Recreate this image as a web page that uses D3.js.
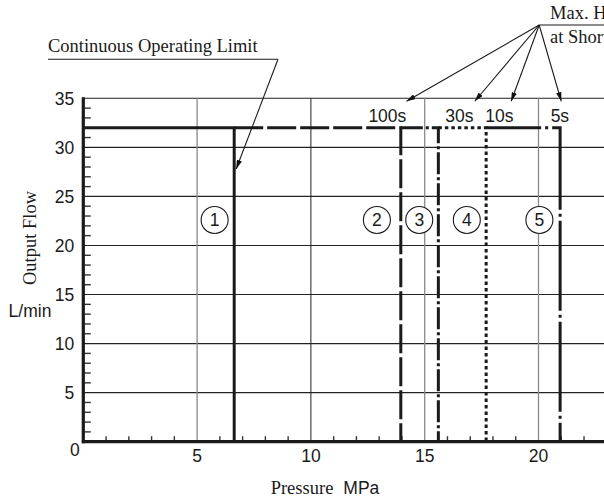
<!DOCTYPE html>
<html>
<head>
<meta charset="utf-8">
<script src="https://cdn.jsdelivr.net/npm/d3@7"></script>
<style>
  body { margin: 0; background: #fff; }
  svg { display: block; overflow: hidden; }
  .sans { font-family: "Liberation Sans", Arial, sans-serif; }
  .serif { font-family: "Liberation Serif", "Times New Roman", serif; }
</style>
</head>
<body>
<svg id="chart" width="604" height="501"></svg>
<script>
// pressure limits (MPa) for each operating region, and the max output flow
var limitPressure = [6.63, 13.95, 15.6, 17.7, 20.95];
var maxFlow = 32;
var regionNames = ["1", "2", "3", "4", "5"];
var regionLabelX = [5.77, 12.9, 14.76, 16.85, 20.04];
var regionLabelY = 22.6;
var regionDash = [null, "29,4", "22,3,3,3", "3.5,3", "90,4,3,4"];
var regionDashOffset = [0, 0, 0, 0, 35];

var holdTimes = ["100s", "30s", "10s", "5s"];
var holdLabelX = [13.36, 16.52, 18.28, 20.94];
var holdArrowX = [14.2, 17.2, 18.8, 21.0];

var xTicks = [5, 10, 15, 20];
var yTicks = [5, 10, 15, 20, 25, 30, 35];

var svg = d3.select("#chart");
var width = +svg.attr("width");

var x = d3.scaleLinear().domain([0, 25]).range([83.3, 83.3 + 25 * 22.76]);
var y = d3.scaleLinear().domain([0, 35]).range([441.7, 98.3]);

var defs = svg.append("defs");
defs.append("marker")
    .attr("id", "arrow")
    .attr("viewBox", "0 0 10 6")
    .attr("refX", 10).attr("refY", 3)
    .attr("markerWidth", 9).attr("markerHeight", 5.4)
    .attr("markerUnits", "userSpaceOnUse")
    .attr("orient", "auto")
  .append("path")
    .attr("d", "M0,0 L10,3 L0,6 Z")
    .attr("fill", "#111");

// grid
svg.append("g")
  .selectAll("line")
  .data(yTicks)
  .enter().append("line")
    .attr("x1", x(0)).attr("x2", width)
    .attr("y1", d => y(d)).attr("y2", d => y(d))
    .attr("stroke", "#222")
    .attr("stroke-width", 1.1);

svg.append("g")
  .selectAll("line")
  .data(xTicks)
  .enter().append("line")
    .attr("x1", d => x(d)).attr("x2", d => x(d))
    .attr("y1", y(0)).attr("y2", y(35))
    .attr("stroke", d => d == 10 ? "#222" : "#8a8a8a")
    .attr("stroke-width", d => d == 10 ? 1 : 1.3);

// minor ticks
var xMinor = d3.range(1, 26).filter(d => d % 5 != 0);
svg.append("g")
  .selectAll("line")
  .data(xMinor)
  .enter().append("line")
    .attr("x1", d => x(d)).attr("x2", d => x(d))
    .attr("y1", y(0)).attr("y2", y(0) - 5.5)
    .attr("stroke", "#333")
    .attr("stroke-width", 1.4);

var yMinor = d3.range(1, 35).filter(d => d % 5 != 0);
svg.append("g")
  .selectAll("line")
  .data(yMinor)
  .enter().append("line")
    .attr("x1", x(0)).attr("x2", x(0) + 7.5)
    .attr("y1", d => y(d)).attr("y2", d => y(d))
    .attr("stroke", "#333")
    .attr("stroke-width", 1.4);

// region boundaries
var regions = limitPressure.map(function (p, i) {
  return { start: i == 0 ? 0 : limitPressure[i - 1], end: p, i: i };
});

svg.append("g")
  .selectAll("path")
  .data(regions)
  .enter().append("path")
    .attr("d", d => d3.line()([[x(d.start), y(maxFlow)], [x(d.end), y(maxFlow)], [x(d.end), y(0)]]))
    .attr("fill", "none")
    .attr("stroke", "#1a1a1a")
    .attr("stroke-width", 3)
    .attr("stroke-dasharray", d => regionDash[d.i])
    .attr("stroke-dashoffset", d => regionDashOffset[d.i]);

// axes (thick frame lines)
svg.append("line")
    .attr("x1", x(0)).attr("x2", x(0))
    .attr("y1", y(35) - 1).attr("y2", y(0) + 1.5)
    .attr("stroke", "#1a1a1a").attr("stroke-width", 3.2);
svg.append("line")
    .attr("x1", x(0) - 1.5).attr("x2", width)
    .attr("y1", y(0)).attr("y2", y(0))
    .attr("stroke", "#1a1a1a").attr("stroke-width", 3.2);

// tick labels
svg.append("g")
  .selectAll("text")
  .data(yTicks)
  .enter().append("text")
    .attr("class", "sans")
    .attr("x", x(0) - 9)
    .attr("y", d => y(d))
    .attr("dy", "0.36em")
    .attr("text-anchor", "end")
    .attr("font-size", 17.5)
    .attr("fill", "#1a1a1a")
    .text(d => d);

svg.append("g")
  .selectAll("text")
  .data(xTicks)
  .enter().append("text")
    .attr("class", "sans")
    .attr("x", d => x(d))
    .attr("y", y(0) + 20.5)
    .attr("text-anchor", "middle")
    .attr("font-size", 17.5)
    .attr("fill", "#1a1a1a")
    .text(d => d);

svg.append("text")
    .attr("class", "sans")
    .attr("x", x(0) - 8.5)
    .attr("y", y(0) + 14.5)
    .attr("text-anchor", "middle")
    .attr("font-size", 17.5)
    .attr("fill", "#1a1a1a")
    .text("0");

// axis titles
svg.append("text")
    .attr("class", "serif")
    .attr("transform", "translate(36," + 238 + ") rotate(-90)")
    .attr("text-anchor", "middle")
    .attr("font-size", 18.5)
    .attr("fill", "#1a1a1a")
    .text("Output Flow");

svg.append("text")
    .attr("class", "sans")
    .attr("x", 30)
    .attr("y", 316.5)
    .attr("text-anchor", "middle")
    .attr("font-size", 17.5)
    .attr("fill", "#1a1a1a")
    .text("L/min");

var xTitle = svg.append("text")
    .attr("x", 325)
    .attr("y", 494)
    .attr("text-anchor", "middle")
    .attr("fill", "#1a1a1a");
xTitle.append("tspan").attr("class", "serif").attr("font-size", 18.5).text("Pressure");
xTitle.append("tspan").attr("class", "sans").attr("font-size", 17.5).attr("dx", 10).text("MPa");

// circled region numbers
var marks = svg.append("g")
  .selectAll("g")
  .data(regionNames)
  .enter().append("g")
    .attr("transform", (d, i) => "translate(" + x(regionLabelX[i]) + "," + y(regionLabelY) + ")");
marks.append("circle")
    .attr("r", 13.5)
    .attr("fill", "#fff")
    .attr("stroke", "#1a1a1a")
    .attr("stroke-width", 1.1);
marks.append("text")
    .attr("class", "sans")
    .attr("text-anchor", "middle")
    .attr("dy", "0.36em")
    .attr("font-size", 17.5)
    .attr("fill", "#1a1a1a")
    .text(d => d);

// holding time labels
svg.append("g")
  .selectAll("text")
  .data(holdTimes)
  .enter().append("text")
    .attr("class", "sans")
    .attr("x", (d, i) => x(holdLabelX[i]))
    .attr("y", y(32.6))
    .attr("text-anchor", "middle")
    .attr("font-size", 17.5)
    .attr("fill", "#1a1a1a")
    .text(d => d);

// annotation: max holding time
var hub = [x(20.03), 25];
svg.append("line")
    .attr("x1", hub[0]).attr("x2", width)
    .attr("y1", hub[1]).attr("y2", hub[1])
    .attr("stroke", "#1a1a1a").attr("stroke-width", 1.1);
svg.append("g")
  .selectAll("line")
  .data(holdArrowX)
  .enter().append("line")
    .attr("x1", hub[0]).attr("y1", hub[1])
    .attr("x2", d => x(d)).attr("y2", y(34.7))
    .attr("stroke", "#1a1a1a").attr("stroke-width", 1.1)
    .attr("marker-end", "url(#arrow)");
svg.append("text")
    .attr("class", "serif")
    .attr("x", 550).attr("y", 19)
    .attr("font-size", 18.5)
    .attr("fill", "#1a1a1a")
    .text("Max. Holding Time");
svg.append("text")
    .attr("class", "serif")
    .attr("x", 550).attr("y", 43)
    .attr("font-size", 18.5)
    .attr("fill", "#1a1a1a")
    .text("at Short Time");

// annotation: continuous operating limit
svg.append("text")
    .attr("class", "serif")
    .attr("x", 48).attr("y", 52)
    .attr("font-size", 18.5)
    .attr("fill", "#1a1a1a")
    .text("Continuous Operating Limit");
svg.append("line")
    .attr("x1", 48).attr("x2", 278)
    .attr("y1", 59.3).attr("y2", 59.3)
    .attr("stroke", "#1a1a1a").attr("stroke-width", 1.1);
svg.append("line")
    .attr("x1", 278).attr("y1", 59.3)
    .attr("x2", x(limitPressure[0]) + 2).attr("y2", y(27.8))
    .attr("stroke", "#1a1a1a").attr("stroke-width", 1.1)
    .attr("marker-end", "url(#arrow)");
</script>
</body>
</html>
